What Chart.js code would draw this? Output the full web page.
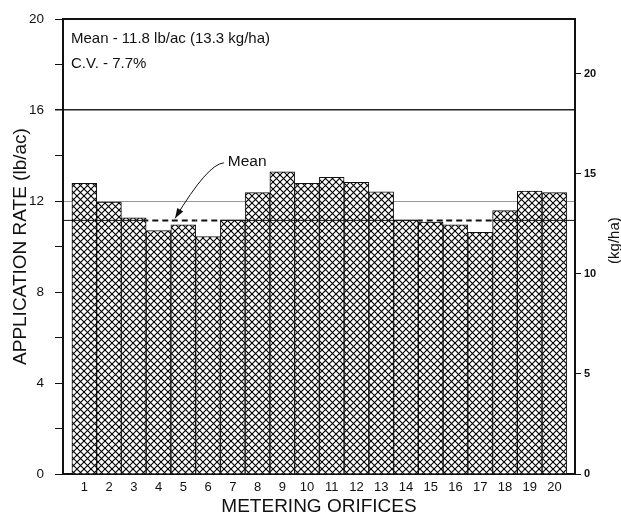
<!DOCTYPE html>
<html>
<head>
<meta charset="utf-8">
<script src="https://cdn.jsdelivr.net/npm/chart.js@4"></script>
<style>
    html, body { margin: 0; padding: 0; background: #fff; }
    #wrap { width: 621px; height: 516px; position: relative; }
</style>
</head>
<body>
<div id="wrap"><canvas id="grafico"></canvas></div>
<script>
    // datos
    const orificios = [1, 2, 3, 4, 5, 6, 7, 8, 9, 10, 11, 12, 13, 14, 15, 16, 17, 18, 19, 20];
    const tasaLbAc = [12.78, 11.96, 11.26, 10.70, 10.96, 10.44, 11.17, 12.37, 13.29, 12.78,
                      13.04, 12.82, 12.41, 11.17, 11.08, 10.96, 10.63, 11.58, 12.44, 12.37];
    const lineaMedia = 11.15;
    const ticksKgHa = [0, 5, 10, 15, 20];
    const maxKgHa = 22.74; // tope del eje derecho

    const textoMedia = 'Mean - 11.8 lb/ac (13.3 kg/ha)';
    const textoCV = 'C.V. - 7.7%';
    // etiqueta "Mean" y flecha, en unidades de datos
    const etiquetaMedia = { x: 6.8, y: 13.75 };
    const inicioFlecha = { x: 6.64, y: 13.68 };
    const puntaFlecha = { x: 4.67, y: 11.24 };

    const fuente = '"Liberation Sans", Arial, sans-serif';

    function crearTrama() {
        const n = 7;
        const c = document.createElement('canvas');
        c.width = n;
        c.height = n;
        const g = c.getContext('2d');
        g.fillStyle = '#fff';
        g.fillRect(0, 0, n, n);
        g.strokeStyle = '#000';
        g.lineWidth = 1.1;
        [-n, 0, n].forEach(function (k) {
            g.beginPath();
            g.moveTo(k - 1, -1);
            g.lineTo(k + n + 1, n + 1);
            g.moveTo(k + n + 1, -1);
            g.lineTo(k - 1, n + 1);
            g.stroke();
        });
        return g.createPattern(c, 'repeat');
    }

    const decoraciones = {
        id: 'decoraciones',
        afterDatasetsDraw: function (chart) {
            const ctx = chart.ctx;
            const a = chart.chartArea;
            const sx = chart.scales.x;
            const sy = chart.scales.y;
            const yMedia = sy.getPixelForValue(lineaMedia);
            const meta = chart.getDatasetMeta(0);

            ctx.save();
            // linea de la media: continua sobre barras altas, discontinua sobre las bajas
            meta.data.forEach(function (bar, i) {
                const x0 = bar.x - bar.width / 2;
                const x1 = bar.x + bar.width / 2;
                ctx.beginPath();
                if (tasaLbAc[i] < lineaMedia) {
                    ctx.setLineDash([6, 4]);
                    ctx.lineDashOffset = -x0;
                    ctx.lineWidth = 2;
                } else {
                    ctx.setLineDash([]);
                    ctx.lineWidth = 1;
                }
                ctx.strokeStyle = '#111';
                ctx.moveTo(i === 0 ? a.left : x0, yMedia);
                ctx.lineTo(i === meta.data.length - 1 ? a.right : x1, yMedia);
                ctx.stroke();
            });
            ctx.setLineDash([]);

            // marco superior
            ctx.strokeStyle = '#111';
            ctx.lineWidth = 2;
            ctx.beginPath();
            ctx.moveTo(a.left - 1, a.top);
            ctx.lineTo(a.right + 1, a.top);
            ctx.stroke();

            // flecha
            const px0 = sx.getPixelForValue(inicioFlecha.x);
            const py0 = sy.getPixelForValue(inicioFlecha.y);
            const px1 = sx.getPixelForValue(puntaFlecha.x);
            const py1 = sy.getPixelForValue(puntaFlecha.y);
            const cx = px0 - 16;
            const cy = py0 + 1;
            ctx.lineWidth = 1;
            ctx.beginPath();
            ctx.moveTo(px0, py0);
            ctx.quadraticCurveTo(cx, cy, px1, py1);
            ctx.stroke();
            const ang = Math.atan2(py1 - cy, px1 - cx);
            ctx.fillStyle = '#111';
            ctx.beginPath();
            ctx.moveTo(px1, py1);
            ctx.lineTo(px1 - 10 * Math.cos(ang) + 3.5 * Math.sin(ang), py1 - 10 * Math.sin(ang) - 3.5 * Math.cos(ang));
            ctx.lineTo(px1 - 10 * Math.cos(ang) - 3.5 * Math.sin(ang), py1 - 10 * Math.sin(ang) + 3.5 * Math.cos(ang));
            ctx.closePath();
            ctx.fill();

            // textos
            ctx.fillStyle = '#111';
            ctx.textBaseline = 'middle';
            ctx.textAlign = 'left';
            ctx.font = '15.5px ' + fuente;
            ctx.fillText('Mean', sx.getPixelForValue(etiquetaMedia.x), sy.getPixelForValue(etiquetaMedia.y));
            ctx.font = '15px ' + fuente;
            ctx.fillText(textoMedia, a.left + 8, a.top + 20);
            ctx.fillText(textoCV, a.left + 8, a.top + 45);

            // titulo del eje derecho, leido de abajo hacia arriba
            ctx.translate(a.right + 40, (a.top + a.bottom) / 2 - 6);
            ctx.rotate(-Math.PI / 2);
            ctx.textAlign = 'center';
            ctx.font = '15px ' + fuente;
            ctx.fillText('(kg/ha)', 0, 0);
            ctx.restore();
        }
    };

    const canvas = document.getElementById('grafico');
    canvas.width = 621;
    canvas.height = 516;
    const ctx = canvas.getContext('2d');

    new Chart(ctx, {
        type: 'bar',
        data: {
            datasets: [{
                data: orificios.map(function (o, i) { return { x: o, y: tasaLbAc[i] }; }),
                backgroundColor: crearTrama(),
                borderColor: '#111',
                borderWidth: 1,
                barPercentage: 1,
                categoryPercentage: 1,
                yAxisID: 'y'
            }]
        },
        options: {
            responsive: false,
            animation: false,
            layout: { padding: { top: 18, left: 0, right: 0, bottom: 0 } },
            plugins: {
                legend: { display: false },
                tooltip: { enabled: false }
            },
            scales: {
                x: {
                    type: 'linear',
                    offset: false,
                    min: 0.14,
                    max: 20.83,
                    afterBuildTicks: function (s) {
                        s.ticks = orificios.map(function (v) { return { value: v }; });
                    },
                    afterFit: function (s) { s.height = 42; },
                    grid: { drawOnChartArea: false, drawTicks: false },
                    border: { color: '#111', width: 2 },
                    ticks: {
                        color: '#111',
                        padding: 6,
                        maxRotation: 0,
                        autoSkip: false,
                        font: { family: fuente, size: 13 }
                    },
                    title: {
                        display: true,
                        text: 'METERING ORIFICES',
                        color: '#111',
                        padding: { top: 0, bottom: -2 },
                        font: { family: fuente, size: 19 }
                    }
                },
                y: {
                    position: 'left',
                    min: 0,
                    max: 20,
                    afterFit: function (s) { s.width = 63; },
                    border: { color: '#111', width: 2 },
                    grid: {
                        tickLength: 8,
                        tickColor: '#111',
                        color: function (c) {
                            if (c.tick.value === 16) return '#222';
                            if (c.tick.value === 12) return '#999';
                            return 'rgba(0,0,0,0)';
                        },
                        lineWidth: function (c) {
                            return c.tick.value === 16 ? 1.5 : 1;
                        }
                    },
                    ticks: {
                        stepSize: 2,
                        color: '#111',
                        padding: 11,
                        font: { family: fuente, size: 13.5 },
                        callback: function (v) { return v % 4 === 0 ? v : ''; }
                    },
                    title: {
                        display: true,
                        text: 'APPLICATION RATE (lb/ac)',
                        color: '#111',
                        padding: { top: 9, bottom: 0 },
                        font: { family: fuente, size: 19 }
                    }
                },
                y2: {
                    position: 'right',
                    min: 0,
                    max: maxKgHa,
                    afterBuildTicks: function (s) {
                        s.ticks = ticksKgHa.map(function (v) { return { value: v }; });
                    },
                    afterFit: function (s) { s.width = 46; },
                    border: { color: '#111', width: 2 },
                    grid: { drawOnChartArea: false, tickLength: 6, tickColor: '#111' },
                    ticks: {
                        color: '#111',
                        padding: 3,
                        font: { family: fuente, size: 11, weight: 'bold' }
                    }
                }
            }
        },
        plugins: [decoraciones]
    });
</script>
</body>
</html>
